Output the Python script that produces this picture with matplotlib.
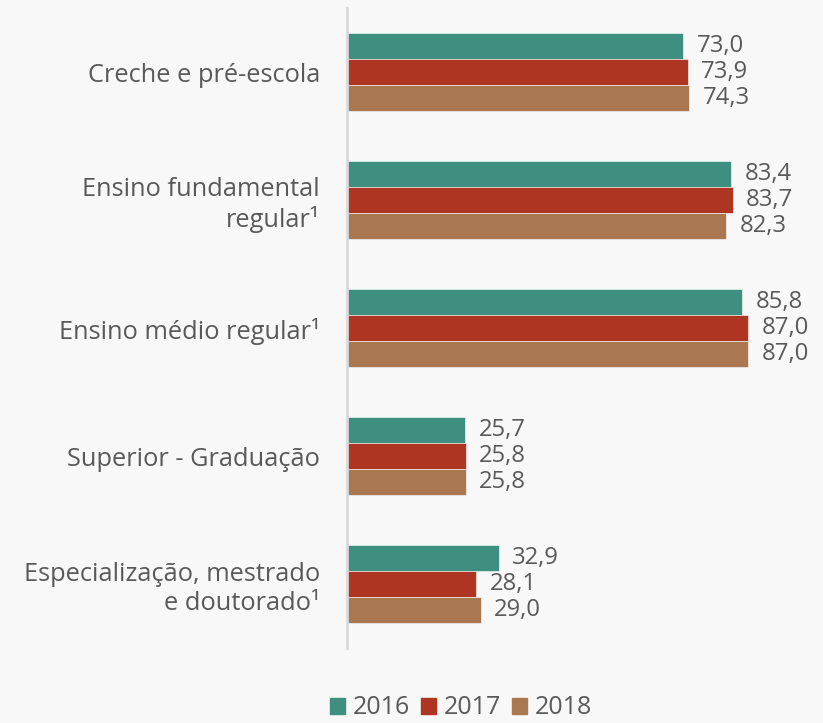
import numpy as np
import matplotlib
matplotlib.use('Agg')
import matplotlib.pyplot as plt
from matplotlib.patches import Patch

plt.rcParams['font.family'] = ['Open Sans', 'DejaVu Sans']

categories = ['Creche e pré-escola', 'Ensino fundamental\nregular¹', 'Ensino médio regular¹',
              'Superior - Graduação', 'Especialização, mestrado\ne doutorado¹']
years = ['2016', '2017', '2018']
v2016 = [73.0, 83.4, 85.8, 25.7, 32.9]
v2017 = [73.9, 83.7, 87.0, 25.8, 28.1]
v2018 = [74.3, 82.3, 87.0, 25.8, 29.0]

colors = ['#3F8F80', '#AE3522', '#A97850']
bg = '#F8F8F8'
txt = '#595959'

fig = plt.figure(figsize=(8.23, 7.23), dpi=100, facecolor=bg)
ax = fig.add_axes([0.4216, 0.1037, 0.560, 0.8852], facecolor=bg)

y = np.arange(len(categories))
h = 0.205
for i, vals in enumerate([v2016, v2017, v2018]):
    pos = y + (i - 1) * h
    ax.barh(pos, vals, height=h, color=colors[i], edgecolor='white', linewidth=0.4)
    for p, v in zip(pos, vals):
        ax.text(v + 2.9, p, ('%.1f' % v).replace('.', ','), va='center', ha='left',
                fontsize=17.2, color=txt)

ax.set_ylim(4.5, -0.5)
ax.set_xlim(0, 100)
ax.set_yticks(y)
ax.set_yticklabels(categories, fontsize=18.3, color=txt, ha='right', multialignment='right')
ax.tick_params(axis='y', length=0, pad=19.5)
ax.set_xticks([])
for s in ['top', 'right', 'bottom']:
    ax.spines[s].set_visible(False)
ax.spines['left'].set_color('#D9D9D9')
ax.spines['left'].set_linewidth(2)

handles = [Patch(color=c, label=l) for c, l in zip(colors, years)]
fig.legend(handles=handles, loc='center', bbox_to_anchor=(461 / 823, 1 - 708 / 723), ncol=3,
           frameon=False, fontsize=18, labelcolor=txt, handlelength=0.6, handleheight=0.6,
           handletextpad=0.3, columnspacing=0.45, borderpad=0.2)

fig.savefig('out.png', dpi=100, facecolor=bg)
